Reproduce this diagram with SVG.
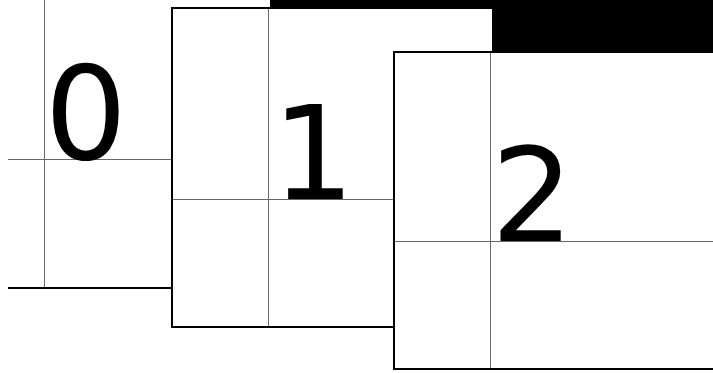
<svg xmlns="http://www.w3.org/2000/svg" width="713" height="373" viewBox="0 0 713 373">
<style>
.bg{fill:#fff;stroke:none}
.border{fill:none;stroke:#000;stroke-width:2}
.grid{stroke:#666;stroke-width:1;fill:none}
.digit{font-family:"DejaVu Sans",sans-serif;font-size:130px;fill:#000}
</style>
<rect width="713" height="373" fill="#fff"/>
<rect x="270" y="0" width="443" height="52" fill="#000"/>
<g id="panel0">
<rect class="bg" x="8" y="0" width="164" height="288"/>
<line class="grid" x1="44.5" y1="0" x2="44.5" y2="288"/>
<line class="grid" x1="8" y1="159.5" x2="172" y2="159.5"/>
<line class="border" x1="8" y1="288" x2="172" y2="288"/>
<text class="digit" x="44.5" y="159">0</text>
</g>
<g id="panel1">
<rect class="bg" x="172" y="8" width="321" height="319"/>
<line class="grid" x1="268.5" y1="8" x2="268.5" y2="327"/>
<line class="grid" x1="172" y1="199.5" x2="493" y2="199.5"/>
<rect class="border" x="172" y="8" width="321" height="319"/>
<text class="digit" x="272" y="199">1</text>
</g>
<g id="panel2">
<rect class="bg" x="394" y="52" width="330" height="317"/>
<line class="grid" x1="490.5" y1="52" x2="490.5" y2="369"/>
<line class="grid" x1="394" y1="241.5" x2="713" y2="241.5"/>
<rect class="border" x="394" y="52" width="330" height="317"/>
<text class="digit" x="491" y="241">2</text>
</g>
</svg>
